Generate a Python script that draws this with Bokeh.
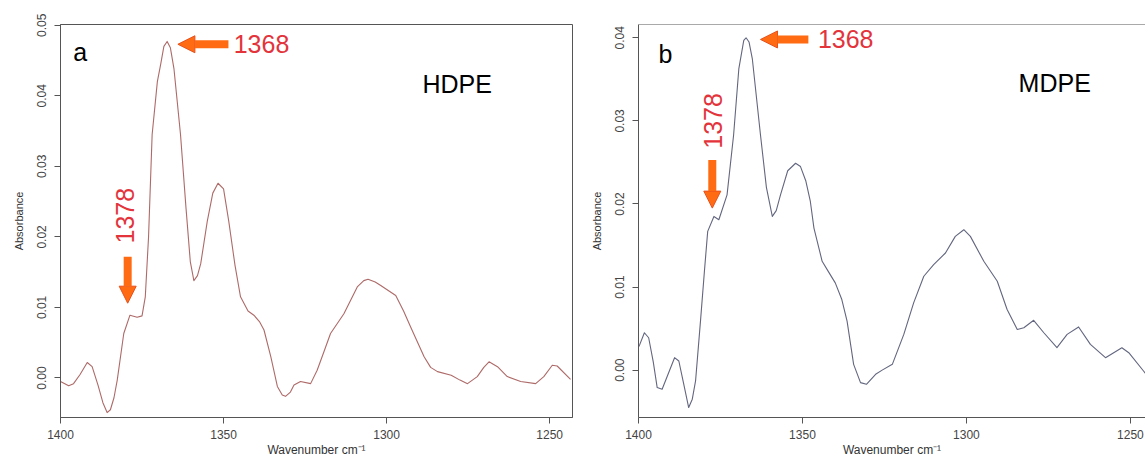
from bokeh.plotting import figure
from bokeh.layouts import row
from bokeh.models import (Range1d, FixedTicker, PrintfTickFormatter, Label, Arrow,
                          NormalHead, Span)
from bokeh.embed import file_html
from bokeh.resources import INLINE

# ---------------- data ----------------
hdpe_wn = [1400.0, 1397.5, 1396.0, 1394.0, 1391.8, 1390.3, 1388.5, 1387.0, 1385.7, 1384.7,
           1383.6, 1382.6, 1380.6, 1378.7, 1376.5, 1375.0, 1374.0, 1373.0, 1371.9, 1370.3,
           1369.3, 1368.3, 1367.3, 1366.3, 1365.2, 1363.2, 1361.5, 1360.2, 1359.1, 1358.0,
           1357.0, 1355.0, 1353.3, 1351.7, 1350.0, 1348.4, 1346.5, 1344.8, 1342.5, 1340.7,
           1339.0, 1337.6, 1335.5, 1333.5, 1332.0, 1331.0, 1329.5, 1328.4, 1326.4, 1323.3,
           1321.3, 1319.0, 1317.2, 1313.1, 1309.0, 1307.0, 1305.7, 1303.5, 1301.8, 1297.2,
           1294.8, 1292.6, 1288.5, 1286.5, 1284.4, 1280.2, 1277.5, 1275.2, 1272.2, 1270.2,
           1268.6, 1266.0, 1263.0, 1258.9, 1254.3, 1251.8, 1249.2, 1247.7, 1243.6]
hdpe_abs = [-0.0005, -0.0011, -0.0008, 0.0005, 0.0022, 0.0016, -0.0010, -0.0035, -0.0049, -0.0045,
            -0.0028, -0.0003, 0.0063, 0.0089, 0.0086, 0.0088, 0.0115, 0.0200, 0.0345, 0.0420,
            0.0444, 0.0470, 0.0477, 0.0468, 0.0438, 0.0345, 0.0240, 0.0165, 0.0138, 0.0145,
            0.0162, 0.0222, 0.0262, 0.0276, 0.0268, 0.0222, 0.0160, 0.0115, 0.0095, 0.0089,
            0.0080, 0.0068, 0.0030, -0.0012, -0.0024, -0.0026, -0.0020, -0.0010, -0.0005, -0.0008,
            0.0011, 0.0040, 0.0063, 0.0091, 0.0129, 0.0138, 0.0140, 0.0136, 0.0131, 0.0117,
            0.0095, 0.0072, 0.0030, 0.0015, 0.0009, 0.0004, -0.0003, -0.0008, 0.0002, 0.0015,
            0.0023, 0.0016, 0.0002, -0.0005, -0.0008, 0.0002, 0.0018, 0.0017, -0.0002]

mdpe_wn = [1400.0, 1399.6, 1398.2, 1396.9, 1395.5, 1394.3, 1392.8, 1391.5, 1389.0, 1387.7,
           1386.3, 1384.7, 1383.6, 1382.6, 1381.1, 1379.9, 1378.9, 1377.0, 1375.5, 1373.0,
           1371.0, 1369.4, 1367.9, 1367.2, 1366.3, 1365.3, 1362.8, 1361.0, 1359.2, 1358.0,
           1356.7, 1354.5, 1352.1, 1350.6, 1349.0, 1347.6, 1346.5, 1344.0, 1342.0, 1340.0,
           1338.0, 1336.4, 1334.4, 1332.3, 1330.5, 1327.7, 1325.7, 1322.6, 1319.1, 1316.1,
           1313.0, 1310.0, 1306.4, 1303.4, 1300.8, 1298.8, 1294.7, 1290.6, 1287.6, 1284.5,
           1282.5, 1279.5, 1276.4, 1272.4, 1269.3, 1265.8, 1262.2, 1257.6, 1255.1, 1252.6,
           1250.5, 1246.0, 1245.4]
mdpe_abs = [0.0028, 0.0031, 0.0045, 0.0039, 0.0010, -0.0021, -0.0023, -0.0010, 0.0015, 0.0011,
            -0.0015, -0.0045, -0.0035, -0.0013, 0.0059, 0.0119, 0.0167, 0.0185, 0.0181, 0.0211,
            0.0283, 0.0363, 0.0397, 0.0400, 0.0395, 0.0375, 0.0283, 0.0220, 0.0185, 0.0192,
            0.0211, 0.0240, 0.0249, 0.0245, 0.0228, 0.0203, 0.0171, 0.0131, 0.0118, 0.0105,
            0.0085, 0.0059, 0.0007, -0.0015, -0.0017, -0.0005, 0.0000, 0.0007, 0.0043, 0.0081,
            0.0113, 0.0127, 0.0141, 0.0161, 0.0169, 0.0161, 0.0131, 0.0107, 0.0073, 0.0049,
            0.0051, 0.0060, 0.0045, 0.0027, 0.0043, 0.0052, 0.0031, 0.0015, 0.0021, 0.0027,
            0.0021, -0.0001, -0.0004]

x_ticks = [1400, 1350, 1300, 1250]
y_ticks_a = [0.00, 0.01, 0.02, 0.03, 0.04, 0.05]
y_ticks_b = [0.00, 0.01, 0.02, 0.03, 0.04]
peak_main = "1368"
peak_side = "1378"

FONT = "Liberation Sans"
AXIS_COL = "#555555"
LABEL_COL = "#444444"
RED = "#e3333b"
ORANGE = "#ff6b12"
ORANGE_EDGE = "#e8501c"


def make_panel(wn, ab, xr, yr, yticks, width, border_left, border_right, border_top,
               line_color, outline):
    p = figure(width=width, height=459, output_backend="svg", toolbar_location=None,
               x_range=Range1d(*xr), y_range=Range1d(*yr),
               min_border_left=border_left, min_border_right=border_right,
               min_border_top=border_top, min_border_bottom=41)
    p.xgrid.visible = False
    p.ygrid.visible = False
    p.background_fill_color = "white"
    p.border_fill_color = "white"
    if outline:
        p.outline_line_color = AXIS_COL
        p.outline_line_width = 1
    else:
        p.outline_line_color = None
        p.add_layout(Span(location=yr[1], dimension="width", line_color=AXIS_COL, line_width=1))

    p.line(wn, ab, line_color=line_color, line_width=1.1, line_join="round")

    for ax in (p.xaxis[0], p.yaxis[0]):
        ax.axis_line_color = AXIS_COL
        ax.major_tick_line_color = AXIS_COL
        ax.major_tick_out = 6
        ax.major_tick_in = 0
        ax.minor_tick_line_color = None
        ax.major_label_text_font = FONT
        ax.major_label_text_font_size = "12px"
        ax.major_label_text_color = LABEL_COL
        ax.axis_label_text_font = FONT
        ax.axis_label_text_font_style = "normal"
        ax.axis_label_text_color = "#333333"

    p.xaxis.ticker = FixedTicker(ticks=x_ticks)
    p.xaxis.formatter = PrintfTickFormatter(format="%d")
    p.xaxis.major_label_standoff = 6
    p.xaxis.axis_label = "Wavenumber cm\u207b\u00b9"
    p.xaxis.axis_label_text_font_size = "12px"
    p.xaxis.axis_label_standoff = 1

    p.yaxis.ticker = FixedTicker(ticks=yticks)
    p.yaxis.formatter = PrintfTickFormatter(format="%.2f")
    p.yaxis.major_label_orientation = "vertical"
    p.yaxis.major_label_standoff = 8
    p.yaxis.axis_label = "Absorbance"
    p.yaxis.axis_label_text_font_size = "11px"
    p.yaxis.axis_label_standoff = 10
    return p


def annotate(p, letter, letter_xy, name, name_xy, main_arrow, main_text_xy,
             side_arrow, side_text_xy):
    p.add_layout(Label(x=letter_xy[0], y=letter_xy[1], text=letter, text_font=FONT,
                       text_font_size="25px", text_color="black",
                       text_baseline="middle", text_align="left"))
    p.add_layout(Label(x=name_xy[0], y=name_xy[1], text=name, text_font=FONT,
                       text_font_size="25px", text_color="black",
                       text_baseline="middle", text_align="left"))
    # horizontal arrow to the main peak
    p.add_layout(Arrow(end=NormalHead(size=17, fill_color=ORANGE, line_color=ORANGE_EDGE,
                                      line_width=1),
                       x_start=main_arrow[0], y_start=main_arrow[1],
                       x_end=main_arrow[2], y_end=main_arrow[3],
                       line_color=ORANGE, line_width=8, line_cap="butt"))
    p.add_layout(Label(x=main_text_xy[0], y=main_text_xy[1], text=peak_main, text_font=FONT,
                       text_font_size="25px", text_color=RED,
                       text_baseline="middle", text_align="left"))
    # vertical arrow to the shoulder
    p.add_layout(Arrow(end=NormalHead(size=17, fill_color=ORANGE, line_color=ORANGE_EDGE,
                                      line_width=1),
                       x_start=side_arrow[0], y_start=side_arrow[1],
                       x_end=side_arrow[2], y_end=side_arrow[3],
                       line_color=ORANGE, line_width=8, line_cap="butt"))
    p.add_layout(Label(x=side_text_xy[0], y=side_text_xy[1], text=peak_side, text_font=FONT,
                       text_font_size="25px", text_color=RED, angle=1.5708,
                       text_baseline="middle", text_align="center"))


pa = make_panel(hdpe_wn, hdpe_abs, (1400, 1243), (-0.0056, 0.0501), y_ticks_a,
                width=578, border_left=60, border_right=6, border_top=24,
                line_color="#ad6a68", outline=True)
annotate(pa, "a", (1396.1, 0.0462), "HDPE", (1289.0, 0.0417),
         (1348.5, 0.0473, 1364.0, 0.0473), (1346.9, 0.0473),
         (1379.4, 0.0172, 1379.4, 0.0106), (1380.1, 0.0230))

pb = make_panel(mdpe_wn, mdpe_abs, (1400, 1245.4), (-0.0057, 0.0416), y_ticks_b,
                width=567, border_left=60, border_right=0, border_top=23,
                line_color="#62667f", outline=False)
annotate(pb, "b", (1393.9, 0.0381), "MDPE", (1284.1, 0.0345),
         (1348.2, 0.0398, 1362.8, 0.0398), (1345.3, 0.0399),
         (1377.5, 0.0253, 1377.5, 0.0195), (1377.2, 0.0300))

layout = row(pa, pb, spacing=0)
open("out.html", "w").write(file_html(layout, INLINE))
